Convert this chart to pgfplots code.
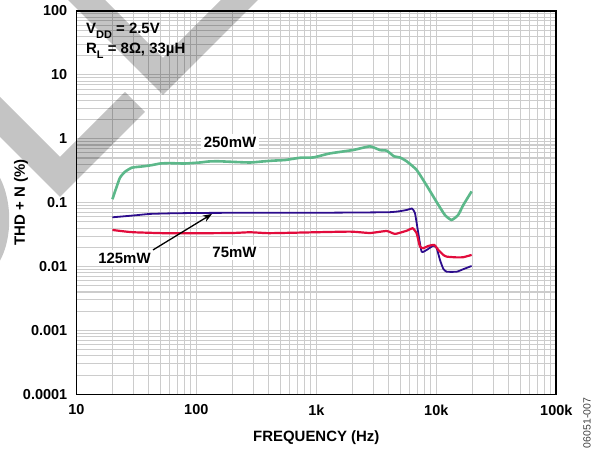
\documentclass[border=0pt]{standalone}
\usepackage{pgfplots}
\pgfplotsset{compat=1.18}
\usepackage{fontspec}
\setmainfont{Liberation Sans}
\usetikzlibrary{arrows.meta}
\definecolor{cgreen}{RGB}{92,184,138}
\definecolor{cblue}{RGB}{44,12,140}
\definecolor{cred}{RGB}{226,12,60}
\definecolor{cgrid}{RGB}{204,204,204}
\newcommand{\lbl}{\fontsize{15}{17}\selectfont\bfseries}
\newcommand{\sub}[1]{\raisebox{-0.3em}{\fontsize{11}{12}\selectfont\bfseries #1}}
\begin{document}
\begin{tikzpicture}
\useasboundingbox (-76.3bp,-58.7bp) rectangle (521.7bp,394.3bp);
\begin{axis}[
 at={(0,0)}, anchor=south west,
 scale only axis, width=480bp, height=383.3bp,
 xmode=log, ymode=log,
 xmin=10, xmax=100000, ymin=0.0001, ymax=100,
 xtick={10,100,1000,10000,100000},
 xticklabels={10,100,1k,10k,100k},
 ytick={0.0001,0.001,0.01,0.1,1,10,100},
 yticklabels={0.0001,0.001,0.01,0.1,1,10,100},
 minor xtick={20,30,40,50,60,70,80,90,200,300,400,500,600,700,800,900,2000,3000,4000,5000,6000,7000,8000,9000,20000,30000,40000,50000,60000,70000,80000,90000},
 minor ytick={0.0002,0.0003,0.0004,0.0005,0.0006,0.0007,0.0008,0.0009,0.002,0.003,0.004,0.005,0.006,0.007,0.008,0.009,0.02,0.03,0.04,0.05,0.06,0.07,0.08,0.09,0.2,0.3,0.4,0.5,0.6,0.7,0.8,0.9,2,3,4,5,6,7,8,9,20,30,40,50,60,70,80,90},
 grid=both,
 major grid style={cgrid, line width=1.1bp},
 minor grid style={cgrid, line width=1.1bp},
 major tick length=0pt, minor tick length=0pt,
 axis line style={line width=1.6bp},
 /pgf/number format/assume math mode=true,
 ticklabel style={font=\fontsize{14.5}{16}\selectfont\bfseries},
 xticklabel style={yshift=-7bp},
 yticklabel style={xshift=-5.6bp},
 xlabel={FREQUENCY (Hz)},
 ylabel={THD + N (\%)},
 every axis x label/.style={at={(axis description cs:0.5,-0.112)}, anchor=center, font=\lbl},
 every axis y label/.style={at={(axis description cs:-0.115,0.5)}, rotate=90, anchor=center, font=\lbl},
]
\addplot[cgreen, line width=2.6bp, smooth, tension=0.3] coordinates {
(20,0.113) (23,0.241) (25.5,0.305) (28.9,0.352) (32,0.362) (36,0.37) (42,0.385) (50,0.41) (60,0.415) (80,0.41) (107,0.425) (125,0.44) (150,0.445) (200,0.435) (280,0.425) (350,0.44) (440,0.455) (550,0.465) (735,0.505) (944,0.51) (1300,0.59) (2037,0.668) (2800,0.76) (3396,0.665) (3862,0.651) (4450,0.53) (4980,0.51) (5700,0.44) (6860,0.325) (8320,0.185) (10070,0.102) (11800,0.064) (13400,0.0536) (15200,0.064) (16800,0.092) (19700,0.15)
};
\addplot[cblue, line width=1.8bp, smooth, tension=0.3] coordinates {
(20,0.059) (30,0.063) (41,0.0666) (60,0.068) (107,0.069) (300,0.0695) (1000,0.0695) (4110,0.071) (5700,0.077) (6270,0.081) (6640,0.069) (7080,0.0332) (7550,0.0171) (8320,0.0182) (9440,0.0212) (10070,0.0194) (10730,0.0127) (11440,0.0092) (12200,0.0083) (14800,0.0083) (16800,0.0091) (19700,0.0102)
};
\addplot[cred, line width=2.2bp, smooth, tension=0.3] coordinates {
(20,0.0374) (25,0.0355) (30,0.0344) (56,0.0332) (100,0.0332) (200,0.0335) (280,0.0344) (400,0.0333) (735,0.034) (1905,0.0352) (2800,0.0335) (3862,0.036) (4530,0.0324) (5700,0.0365) (6350,0.0397) (6860,0.0332) (7310,0.0205) (7800,0.0194) (8580,0.021) (9620,0.0218) (10400,0.0182) (11440,0.0152) (12200,0.0143) (14800,0.0139) (16800,0.014) (19700,0.0152)
};
\node[anchor=base west, font=\lbl, inner sep=0pt] at (rel axis cs:0.0202,0.940) {V\sub{DD} = 2.5V};
\node[anchor=base west, font=\lbl, inner sep=0pt] at (rel axis cs:0.0202,0.888) {R\sub{L} = 8Ω, 33µH};
\node[fill=white, inner sep=2.5bp, font=\lbl] at (axis cs:191,0.89) {250mW};
\node[fill=white, inner sep=2.5bp, font=\lbl] at (axis cs:208,0.0165) {75mW};
\node[fill=white, inner sep=2.5bp, font=\lbl] at (axis cs:25.2,0.0136) {125mW};
\draw[-{Stealth[length=9bp,width=7bp]}, line width=1.3bp] (axis cs:43.6,0.0182) -- (axis cs:135,0.0665);
\end{axis}
\begin{scope}[shift={(-76.3bp,394.3bp)}, x=1bp, y=-1bp]
\fill[black, fill opacity=0.23] (63,-5) -- (163,95) -- (263,-5) -- (226,-5) -- (163,58) -- (100,-5) -- cycle;
\fill[black, fill opacity=0.23] (-5,92) -- (60,157) -- (125,92) -- (145,112) -- (60,197) -- (-5,132) -- cycle;
\fill[black, fill opacity=0.23] (-5,170) .. controls (14,195) and (14,245) .. (-5,268) -- cycle;
\node[rotate=90, font=\fontsize{10.5}{12}\selectfont, text=black!75] at (587,423) {06051-007};
\end{scope}
\end{tikzpicture}
\end{document}
